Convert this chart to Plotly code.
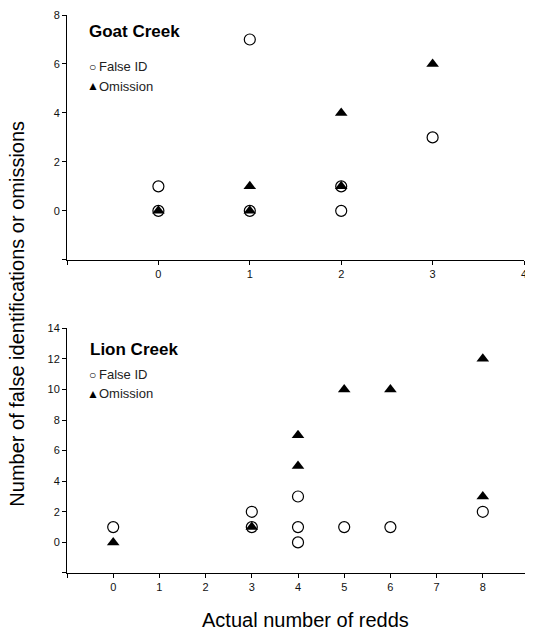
import plotly.graph_objects as go

# Goat Creek
goat_false_x = [0, 0, 1, 1, 2, 2, 3]
goat_false_y = [1, 0, 7, 0, 1, 0, 3]
goat_omit_x = [0, 1, 1, 2, 2, 3]
goat_omit_y = [0, 1, 0, 4, 1, 6]

# Lion Creek
lion_false_x = [0, 3, 3, 4, 4, 4, 5, 6, 8]
lion_false_y = [1, 2, 1, 3, 1, 0, 1, 1, 2]
lion_omit_x = [0, 3, 4, 4, 5, 6, 8, 8]
lion_omit_y = [0, 1, 7, 5, 10, 10, 12, 3]

goat_xticks = [-1, 0, 1, 2, 3, 4]
goat_yticks = [-2, 0, 2, 4, 6, 8]
lion_xticks = [-1, 0, 1, 2, 3, 4, 5, 6, 7, 8, 9]
lion_yticks = [-2, 0, 2, 4, 6, 8, 10, 12, 14]

FONT = "Liberation Sans, Arial, sans-serif"

def lab(vals, first_blank=True):
    return ["" if (i == 0 and first_blank) else str(v) for i, v in enumerate(vals)]

circle = dict(symbol="circle", size=11, color="white", line=dict(color="black", width=1.2))
tri = dict(symbol="triangle-up", size=11, color="black", line=dict(color="black", width=0))

fig = go.Figure()
fig.add_trace(go.Scatter(x=goat_false_x, y=goat_false_y, mode="markers", marker=circle,
                         xaxis="x", yaxis="y", showlegend=False, name="False ID"))
fig.add_trace(go.Scatter(x=goat_omit_x, y=goat_omit_y, mode="markers", marker=tri,
                         xaxis="x", yaxis="y", showlegend=False, name="Omission"))
fig.add_trace(go.Scatter(x=lion_false_x, y=lion_false_y, mode="markers", marker=circle,
                         xaxis="x2", yaxis="y2", showlegend=False, name="False ID"))
fig.add_trace(go.Scatter(x=lion_omit_x, y=lion_omit_y, mode="markers", marker=tri,
                         xaxis="x2", yaxis="y2", showlegend=False, name="Omission"))

axis_common = dict(showgrid=False, zeroline=False, showline=True, linecolor="black",
                   linewidth=1, ticks="outside", ticklen=4, tickwidth=1, tickcolor="black",
                   tickfont=dict(family=FONT, size=11, color="#111"), mirror=False)

fig.update_layout(
    width=525, height=627,
    margin=dict(l=59, r=1, t=2, b=62),
    plot_bgcolor="white", paper_bgcolor="white",
    showlegend=False,
    xaxis=dict(domain=[0, 0.9892], range=[-1, 4], tickvals=goat_xticks, ticktext=lab(goat_xticks),
               anchor="y", **axis_common),
    yaxis=dict(domain=[0.5613, 1], range=[-2, 8], tickvals=goat_yticks, ticktext=lab(goat_yticks),
               anchor="x", **axis_common),
    xaxis2=dict(domain=[0, 1], range=[-1, 9], tickvals=lion_xticks, ticktext=lab(lion_xticks),
                anchor="y2", **axis_common),
    yaxis2=dict(domain=[0, 0.4387], range=[-2, 14], tickvals=lion_yticks, ticktext=lab(lion_yticks),
                anchor="x2", **axis_common),
)

ann = []
def add_panel_labels(title, xt, yt, yf, yo):
    ann.append(dict(text="<b>%s</b>" % title, x=xt, y=yt, xref="paper", yref="paper",
                    xanchor="left", yanchor="middle", showarrow=False,
                    font=dict(family=FONT, size=17, color="black")))
    ann.append(dict(text="○", x=0.0559, y=yf, xref="paper", yref="paper",
                    xanchor="center", yanchor="middle", showarrow=False,
                    font=dict(family=FONT, size=12, color="black")))
    ann.append(dict(text="▲", x=0.0559, y=yo, xref="paper", yref="paper",
                    xanchor="center", yanchor="middle", showarrow=False,
                    font=dict(family=FONT, size=12, color="black")))
    ann.append(dict(text="False ID", x=0.0645, y=yf, xref="paper", yref="paper",
                    xanchor="left", yanchor="middle", showarrow=False,
                    font=dict(family=FONT, size=13, color="#222")))
    ann.append(dict(text="Omission", x=0.0645, y=yo, xref="paper", yref="paper",
                    xanchor="left", yanchor="middle", showarrow=False,
                    font=dict(family=FONT, size=13, color="#222")))

add_panel_labels("Goat Creek", 0.043, 0.9698, 0.9076, 0.8721)
add_panel_labels("Lion Creek", 0.045, 0.4014, 0.3552, 0.3215)

ann.append(dict(text="Number of false identifications or omissions", x=-0.1075, y=0.4654,
                xref="paper", yref="paper", xanchor="center", yanchor="middle",
                textangle=-90, showarrow=False, font=dict(family=FONT, size=20, color="black")))
ann.append(dict(text="Actual number of redds", x=0.517, y=-0.0835,
                xref="paper", yref="paper", xanchor="center", yanchor="middle",
                showarrow=False, font=dict(family=FONT, size=20, color="black")))

fig.update_layout(annotations=ann)
fig.write_html("out.html")
